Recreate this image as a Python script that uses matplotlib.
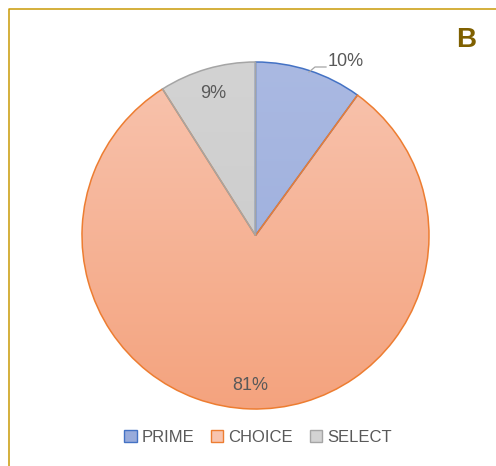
import numpy as np
import matplotlib
matplotlib.use("Agg")
import matplotlib.pyplot as plt
from matplotlib.patches import Patch
from matplotlib.colors import LinearSegmentedColormap

# data
labels = ["PRIME", "CHOICE", "SELECT"]
shares = [10, 81, 9]
pct_text = ["10%", "81%", "9%"]

edge_colors = ["#4472C4", "#ED7D31", "#A5A5A5"]
top_colors = ["#AAB9E2", "#F8C4AF", "#D3D3D3"]
bottom_colors = ["#98ABDB", "#F4A37E", "#C9C9C9"]

W, H = 496, 466
fig = plt.figure(figsize=(W / 100, H / 100), dpi=100)
ax = fig.add_axes([0, 0, 1, 1])

cx, cy, r = 255.5, H - 235.5, 173.5

wedges, _ = ax.pie(shares, startangle=90, counterclock=False,
                   center=(cx, cy), radius=r, frame=True,
                   wedgeprops=dict(linewidth=1.1))

grad = np.linspace(0, 1, 256).reshape(-1, 1)
for w, e, c1, c2 in zip(wedges, edge_colors, top_colors, bottom_colors):
    w.set_facecolor("none")
    w.set_edgecolor(e)
    w.set_zorder(3)
    cmap = LinearSegmentedColormap.from_list("g", [c1, c2])
    im = ax.imshow(grad, cmap=cmap, aspect="auto",
                   extent=(cx - r, cx + r, cy - r, cy + r), origin="upper", zorder=2)
    im.set_clip_path(w)

txt = dict(fontsize=13, color="#595959", family="Liberation Sans")
# 10% label outside with leader
ax.plot([309, 315, 326], [H - 72, H - 67, H - 67], color="#A5A5A5", lw=0.9, zorder=4)
ax.text(328, H - 61, pct_text[0], ha="left", va="center", **txt)
ax.text(250, H - 385, pct_text[1], ha="center", va="center", **txt)
ax.text(213, H - 93, pct_text[2], ha="center", va="center", **txt)

ax.text(466, H - 40, "B", ha="center", va="center", fontsize=20,
        fontweight="bold", color="#7F6000", family="Liberation Sans")

# border (top and left visible)
bc = "#C99A06"
ax.plot([8.5, 8.5, W + 5], [-5, H - 9, H - 9], color=bc, lw=1.1, zorder=5, clip_on=False)

handles = [Patch(facecolor=(c1 if i else c2), edgecolor=e, linewidth=1.0, label=l)
           for i, (l, e, c1, c2) in enumerate(zip(labels, edge_colors, top_colors, bottom_colors))]
ax.legend(handles=handles, ncol=3, loc="center", bbox_to_anchor=(258 / W, 29 / H),
          bbox_transform=fig.transFigure, frameon=False, handlelength=0.75,
          handleheight=0.75, handletextpad=0.3, columnspacing=1.0,
          prop=dict(family="Liberation Sans", size=12), labelcolor="#595959")

ax.set_xlim(0, W)
ax.set_ylim(0, H)
ax.set_aspect("equal")
ax.axis("off")

fig.savefig("out.png", dpi=100)
